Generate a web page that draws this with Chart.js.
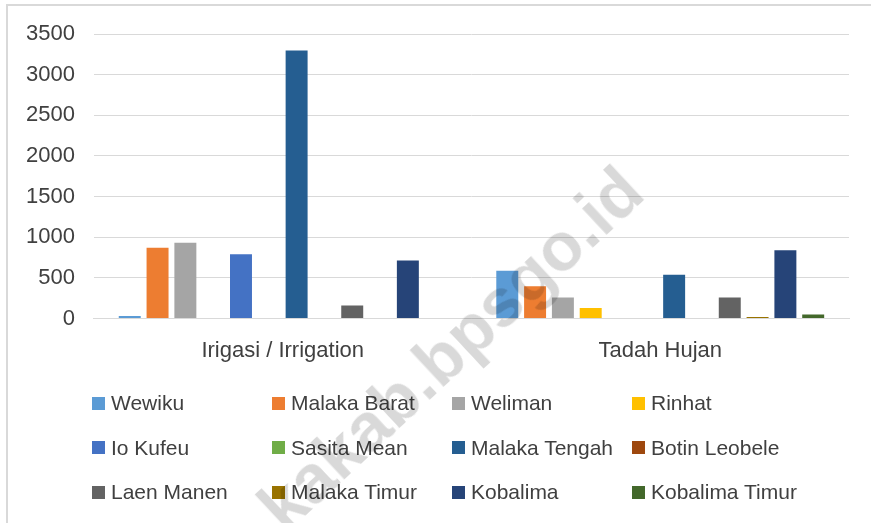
<!DOCTYPE html>
<html>
<head>
<meta charset="utf-8">
<script src="https://cdn.jsdelivr.net/npm/chart.js@4"></script>
<style>
  body { margin: 0; background: #fff; font-family: "Liberation Sans", Arial, sans-serif; }
  #wrap { position: relative; width: 871px; height: 523px; overflow: hidden; }
  #frame { position: absolute; left: 6px; top: 4px; width: 900px; height: 560px;
           border-top: 2px solid #d9d9d9; border-left: 2px solid #d9d9d9; }
  #chart { position: absolute; left: 0; top: 0; }
  #legend { position: absolute; left: 92px; top: 381px; display: grid;
            grid-template-columns: repeat(4, 180px); grid-auto-rows: 44.5px; }
  .item { display: flex; align-items: center; font-size: 21px; color: #404040; white-space: nowrap; }
  .box { width: 13px; height: 13px; margin-right: 6px; flex: none; }
  #mark { position: absolute; left: 450px; top: 348px; transform: translate(-50%, -50%) rotate(-43deg);
          font: bold 68px "Liberation Sans", Arial, sans-serif; color: rgba(0,0,0,0.15);
          white-space: nowrap; pointer-events: none; }
</style>
</head>
<body>
<div id="wrap">
  <div id="frame"></div>
  <canvas id="chart" width="871" height="392"></canvas>
  <div id="legend"></div>
  <div id="mark">kakab.bpsgo.id</div>
</div>
<script>
// categories
const categories = ['Irigasi / Irrigation', 'Tadah Hujan'];

// districts (series) and colours
const districts = ['Wewiku', 'Malaka Barat', 'Weliman', 'Rinhat', 'Io Kufeu', 'Sasita Mean',
    'Malaka Tengah', 'Botin Leobele', 'Laen Manen', 'Malaka Timur', 'Kobalima', 'Kobalima Timur'];
const colors = ['#5b9bd5', '#ed7d31', '#a5a5a5', '#ffc000', '#4472c4', '#70ad47',
    '#255e91', '#9e480e', '#636363', '#997300', '#264478', '#43682b'];

// values per district: [irigasi, tadah hujan]
const irigasi = [33, 870, 932, 0, 792, 0, 3297, 0, 160, 0, 714, 0];
const tadahHujan = [587, 398, 259, 131, 0, 0, 538, 0, 259, 20, 841, 49];

const yTicks = [0, 500, 1000, 1500, 2000, 2500, 3000, 3500];

const datasets = districts.map((name, i) => ({
    label: name,
    data: [irigasi[i], tadahHujan[i]],
    backgroundColor: colors[i],
    categoryPercentage: 0.884,
    barPercentage: 0.79,
}));

const chart = new Chart(document.getElementById('chart'), {
    type: 'bar',
    data: { labels: categories, datasets: datasets },
    options: {
        responsive: false,
        animation: false,
        layout: { padding: { left: 7, right: 22, top: 34, bottom: 17 } },
        plugins: { legend: { display: false }, tooltip: { enabled: false } },
        scales: {
            x: {
                grid: { display: false },
                border: { color: '#d9d9d9' },
                ticks: { color: '#404040', font: { family: 'Liberation Sans', size: 22 }, padding: 11 }
            },
            y: {
                min: 0,
                max: 3500,
                afterBuildTicks: axis => { axis.ticks = yTicks.map(v => ({ value: v })); },
                grid: { color: '#d9d9d9', drawTicks: false },
                border: { display: false },
                ticks: {
                    color: '#404040',
                    font: { family: 'Liberation Sans', size: 22 },
                    padding: 19,
                    callback: v => String(v)
                }
            }
        }
    }
});

// legend in four columns, like the original
const legend = document.getElementById('legend');
chart.data.datasets.forEach(ds => {
    const item = document.createElement('div');
    item.className = 'item';
    const box = document.createElement('span');
    box.className = 'box';
    box.style.background = ds.backgroundColor;
    item.appendChild(box);
    item.appendChild(document.createTextNode(ds.label));
    legend.appendChild(item);
});
</script>
</body>
</html>
